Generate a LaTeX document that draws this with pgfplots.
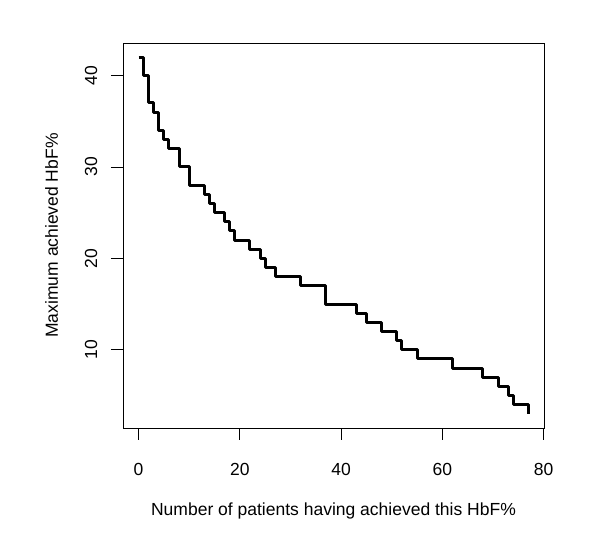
\documentclass[border=0pt]{standalone}
\usepackage{fontspec}
\setmainfont{Liberation Sans}
\usepackage{pgfplots}
\pgfplotsset{compat=1.18}
\begin{document}
\begin{tikzpicture}
\useasboundingbox (0,0) rectangle (600bp,554bp);
\begin{axis}[
  at={(123bp,126bp)}, anchor=south west,
  width=421bp, height=385bp, scale only axis,
  xmin=-3.08, xmax=80.08, ymin=1.44, ymax=43.56,
  xtick={0,20,40,60,80}, ytick={10,20,30,40},
  tick pos=left, tick align=outside, major tick length=12bp,
  axis line style={line width=0.8bp, black},
  every tick/.style={line width=0.8bp, black},
  /pgf/number format/assume math mode=true,
  tick label style={font=\fontsize{17.5bp}{21bp}\selectfont},
  xticklabel style={anchor=base}, xticklabel shift=35bp,
  yticklabel style={rotate=90, anchor=base}, yticklabel shift=14bp,
  label style={font=\fontsize{17.5bp}{21bp}\selectfont},
  xlabel={Number of patients having achieved this HbF\%},
  ylabel={Maximum achieved HbF\%},
  xlabel style={at={(axis description cs:0.5,-0.2273)}, anchor=base},
  ylabel style={at={(axis description cs:-0.1544,0.5)}, anchor=base},
]
\addplot[const plot, black, line width=3bp, line join=round] coordinates {
(0,42) (1,40) (2,37) (3,36) (4,34) (5,33) (6,32) (8,30) (10,28) (13,27)
(14,26) (15,25) (17,24) (18,23) (19,22) (22,21) (24,20) (25,19) (27,18)
(32,17) (37,15) (43,14) (45,13) (48,12) (51,11) (52,10) (55,9) (62,8)
(68,7) (71,6) (73,5) (74,4) (77,3)
};
\end{axis}
\end{tikzpicture}
\end{document}
